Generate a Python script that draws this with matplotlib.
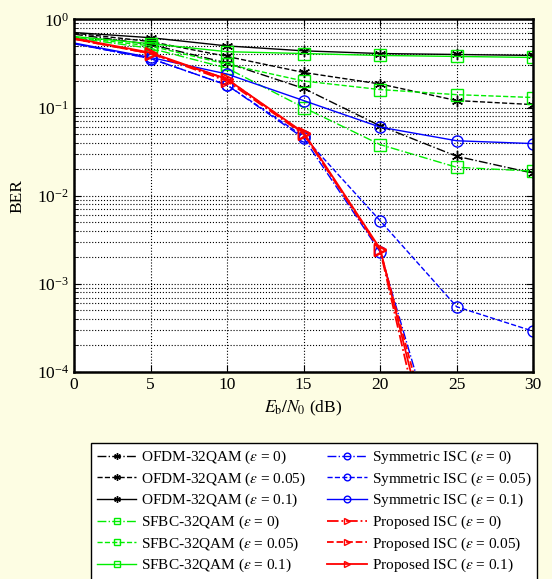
import numpy as np
import matplotlib
matplotlib.use("Agg")
import matplotlib.pyplot as plt

plt.rcParams['font.family'] = 'Liberation Serif'
plt.rcParams['mathtext.fontset'] = 'stix'

snr = [0, 5, 10, 15, 20, 25, 30]
eps_labels = ['0', '0.05', '0.1']

# BER, per epsilon (0, 0.05, 0.1)
ofdm = [
    [0.68, 0.52, 0.32, 0.165, 0.062, 0.028, 0.018],
    [0.70, 0.56, 0.38, 0.25, 0.185, 0.12, 0.108],
    [0.71, 0.62, 0.50, 0.44, 0.41, 0.40, 0.39],
]
sfbc = [
    [0.62, 0.47, 0.28, 0.10, 0.038, 0.021, 0.019],
    [0.63, 0.50, 0.31, 0.20, 0.16, 0.14, 0.13],
    [0.64, 0.53, 0.43, 0.41, 0.39, 0.38, 0.37],
]
symmetric = [
    [0.53, 0.36, 0.18, 0.045, 0.0023, 2.5e-6, 1e-9],
    [0.53, 0.36, 0.18, 0.047, 0.0052, 5.5e-4, 2.9e-4],
    [0.54, 0.37, 0.24, 0.12, 0.06, 0.042, 0.039],
]
proposed = [
    [0.60, 0.41, 0.20, 0.050, 0.0024, 4e-7, 1e-10],
    [0.60, 0.41, 0.21, 0.051, 0.0024, 1.5e-6, 1e-10],
    [0.61, 0.42, 0.21, 0.052, 0.0025, 8e-7, 1e-10],
]

styles = ['-.', '--', '-']
asterisk = (6, 2, 0)

fig = plt.figure(figsize=(5.52, 5.79), dpi=100, facecolor='#FDFDE3')
ax = fig.add_axes([0.134, 0.3575, 0.832, 0.609])

groups = [
    ('OFDM-32QAM', ofdm, 'k', asterisk),
    ('SFBC-32QAM', sfbc, '#00EE00', 's'),
    ('Symmetric ISC', symmetric, 'b', 'o'),
    ('Proposed ISC', proposed, 'r', '>'),
]
for name, data, col, mk in groups:
    for i in range(3):
        lw = 1.0
        if col == 'r':
            lw = 1.3
        ax.semilogy(snr, data[i], linestyle=styles[i], color=col, marker=mk,
                    markersize=8, markerfacecolor='none', markeredgecolor=col,
                    markeredgewidth=1.0, linewidth=lw, markevery=slice(1, None),
                    label=name + r' ($\varepsilon$ = ' + eps_labels[i] + ')')

ax.set_xlim(0, 30)
ax.set_ylim(1e-4, 1)
ax.set_xticks([0, 5, 10, 15, 20, 25, 30])
ax.grid(True, which='both', linestyle=':', color='k', linewidth=0.8)
ax.tick_params(which='both', direction='in', top=True, right=True, labelsize=12.5)
ax.tick_params(which='major', length=5)
ax.tick_params(which='minor', length=3)
for s in ax.spines.values():
    s.set_linewidth(1.8)

ax.set_xlabel(r'$E_{\rm b}/N_0$ (dB)', fontsize=12.5)
ax.set_ylabel('BER', fontsize=12.5, labelpad=8)

leg = fig.legend(*ax.get_legend_handles_labels(), loc='center', ncol=2,
                 bbox_to_anchor=(0.5688, 0.1165), fontsize=11, fancybox=False,
                 edgecolor='k', framealpha=1, markerscale=0.6, handlelength=2.6,
                 labelspacing=0.28, columnspacing=1.4, handletextpad=0.3,
                 borderpad=0.4)
leg.get_frame().set_linewidth(1.0)

fig.savefig('out.png', dpi=100, facecolor=fig.get_facecolor())
